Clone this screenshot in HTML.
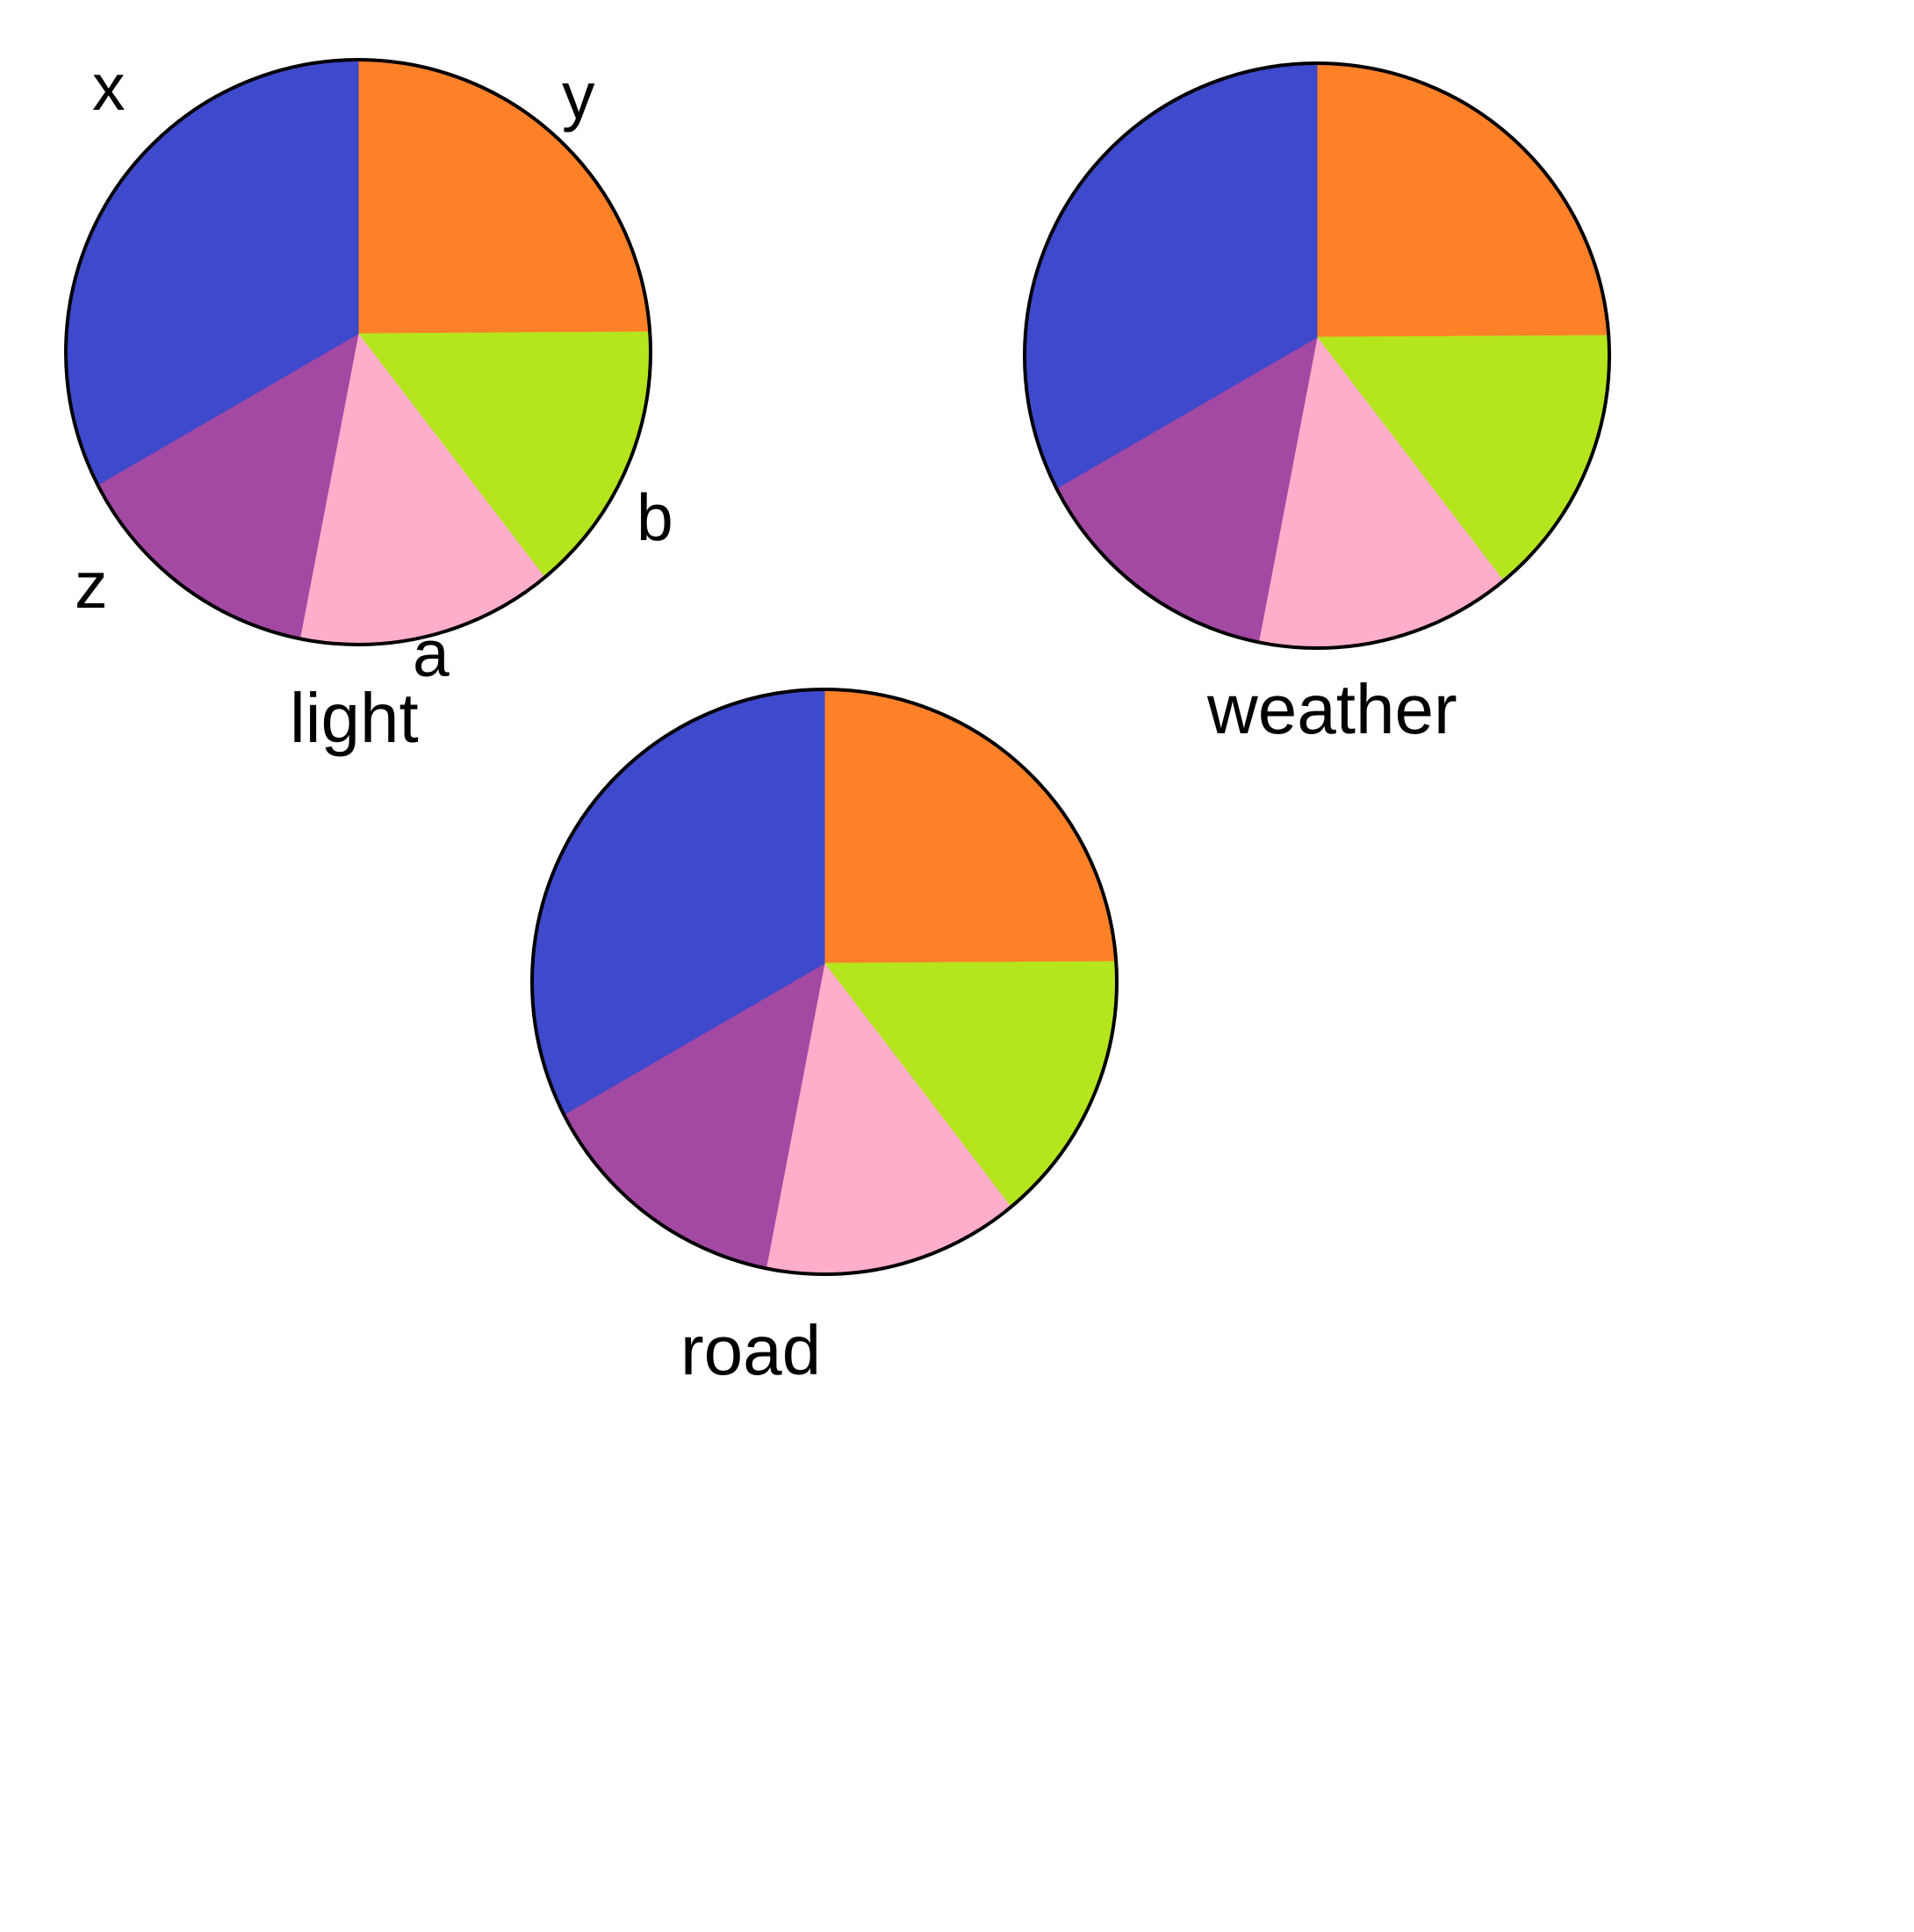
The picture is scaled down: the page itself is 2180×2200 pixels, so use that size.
<!DOCTYPE html>
<html><head><meta charset="utf-8"><style>
html,body{margin:0;padding:0;background:#fff;width:2180px;height:2200px;overflow:hidden}
svg text{font-family:"Liberation Sans",sans-serif;fill:#000;font-weight:300}
</style></head><body>
<svg id="chart" width="2180" height="2200" viewBox="0 0 2180 2200" xmlns="http://www.w3.org/2000/svg">
<g id="pies"></g>
<text x="105" y="125" font-size="75">x</text>
<text x="640" y="135" font-size="75">y</text>
<text x="725" y="615" font-size="75">b</text>
<text x="470" y="770" font-size="75">a</text>
<text x="85" y="692" font-size="75">z</text>
</svg>
<script>
const pieTitles = ["light", "weather", "road"];
const categories = ["y", "b", "a", "z", "x"];
const lightValues = [23.9, 15.1, 14.2, 14.3, 32.5];
const weatherValues = [23.9, 15.1, 14.2, 14.3, 32.5];
const roadValues = [23.9, 15.1, 14.2, 14.3, 32.5];
const colors = ["#fe8128", "#b5e61d", "#feaecb", "#a349a3", "#3f49cc"];
const layout = [{cx:408,cy:401,tx:330,ty:845},{cx:1500,cy:405,tx:1375,ty:835},{cx:939,cy:1118,tx:775,ty:1565}];
const R = 333;
const allValues = [lightValues, weatherValues, roadValues];
const NS = "http://www.w3.org/2000/svg";
const g = document.getElementById("pies");
function pt(cx, cy, a){ const r = a*Math.PI/180; return [cx + R*Math.sin(r), cy - R*Math.cos(r)]; }
allValues.forEach((vals, i) => {
  const L = layout[i];
  const ax = L.cx, ay = L.cy - 21;
  const total = vals.reduce((s,v)=>s+v,0);
  let start = 0;
  vals.forEach((v, j) => {
    const sweep = v/total*360;
    const p0 = pt(L.cx, L.cy, start), p1 = pt(L.cx, L.cy, start+sweep);
    const path = document.createElementNS(NS, "path");
    path.setAttribute("d", `M${ax},${ay} L${p0[0]},${p0[1]} A${R},${R} 0 ${sweep>180?1:0} 1 ${p1[0]},${p1[1]} Z`);
    path.setAttribute("fill", colors[j]);
    path.setAttribute("stroke", colors[j]);
    path.setAttribute("stroke-width", "1");
    
    
    g.appendChild(path);
    start += sweep;
  });
  const c = document.createElementNS(NS, "circle");
  c.setAttribute("cx", L.cx); c.setAttribute("cy", L.cy); c.setAttribute("r", R);
  c.setAttribute("fill", "none"); c.setAttribute("stroke", "#000"); c.setAttribute("stroke-width", "4");
  
  
  g.appendChild(c);
  const t = document.createElementNS(NS, "text");
  t.setAttribute("x", L.tx); t.setAttribute("y", L.ty); t.setAttribute("font-size", "80");
  t.textContent = pieTitles[i];
  
  
  g.appendChild(t);
});
</script>
</body></html>
